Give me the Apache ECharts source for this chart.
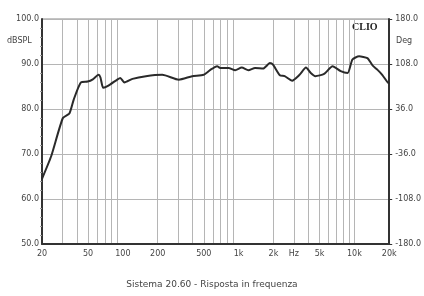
<!DOCTYPE html>
<html>
<head>
<meta charset="utf-8">
<title>Sistema 20.60 - Risposta in frequenza</title>
<script src="https://cdn.jsdelivr.net/npm/echarts@6/dist/echarts.min.js"></script>
<style>
    html, body { margin: 0; padding: 0; background: #fff; }
    #chart { width: 424px; height: 296px; }
</style>
</head>
<body>
<div id="chart"></div>
<script>
// frequency response
var freqs = [20, 24, 30.3, 34.5, 37.6, 43.4, 49.6, 55, 61.6, 64, 67.6, 75, 90, 95, 103, 121, 158, 219, 304, 397, 498, 570, 652, 694, 818, 934, 1064, 1214, 1386, 1632, 1862, 1988, 2270, 2500, 2900, 3360, 3820, 4200, 4600, 5480, 6480, 7620, 8740, 9620, 10980, 12960, 14340, 15860, 17400, 19280, 20000];
var spl = [64.5, 69.5, 78, 79, 82.1, 85.9, 86.1, 86.6, 87.6, 87.0, 84.7, 85.2, 86.6, 86.9, 85.9, 86.7, 87.3, 87.6, 86.5, 87.3, 87.6, 88.7, 89.5, 89.1, 89.1, 88.6, 89.2, 88.6, 89.1, 89.0, 90.2, 89.8, 87.5, 87.3, 86.3, 87.6, 89.2, 88.0, 87.3, 87.8, 89.5, 88.4, 88.0, 91.0, 91.7, 91.3, 89.7, 88.7, 87.6, 86.0, 85.6];

// tick labels
var labelFreqs = [20, 50, 100, 200, 500, 1000, 2000, 3000, 5000, 10000, 20000];
var splTicks = [50, 60, 70, 80, 90, 100];
var degTicks = [-180, -108, -36, 36, 108, 180];

var font = 'DejaVu Sans';

// vertical grid at 20, 30 ... 90, 100, 200 ... 20k
var gridFreqs = [];
[10, 100, 1000].forEach(function (d) {
    for (var k = 2; k <= 9; k++) gridFreqs.push(k * d);
});
gridFreqs.push(10000, 20000);

var points = freqs.map(function (f, i) { return [f, spl[i]]; });

var chart = echarts.init(document.getElementById('chart'));

var option = {
    animation: false,
    backgroundColor: '#fff',
    title: {
        text: 'Sistema 20.60 - Risposta in frequenza',
        left: 'center',
        bottom: 2,
        textStyle: { fontFamily: font, fontSize: 9, fontWeight: 'normal', color: '#444' }
    },
    grid: {
        left: 42, right: 32, top: 19, bottom: 52,
        show: true, borderColor: '#888', borderWidth: 1
    },
    graphic: [
        { type: 'text', left: 7, top: 37, style: { text: 'dBSPL', font: '8px DejaVu Sans', fill: '#444' } },
        { type: 'text', left: 396, top: 37, style: { text: 'Deg', font: '8px DejaVu Sans', fill: '#444' } },
        { type: 'text', left: 352, top: 22, style: { text: 'CLIO', font: 'bold 10px Liberation Serif', fill: '#222' } }
    ],
    xAxis: {
        type: 'log',
        logBase: 10,
        min: 20,
        max: 20000,
        axisLine: { show: true, lineStyle: { color: '#333', width: 2 } },
        axisTick: { show: false, customValues: gridFreqs },
        splitLine: { show: true, lineStyle: { color: '#b5b5b5', width: 1 } },
        axisLabel: {
            customValues: labelFreqs,
            margin: 6,
            fontFamily: font,
            fontSize: 8,
            color: '#444',
            formatter: function (v) {
                v = Math.round(v);
                if (v === 3000) return 'Hz';
                return v >= 1000 ? (v / 1000) + 'k' : String(v);
            }
        }
    },
    yAxis: [{
        type: 'value',
        min: 50,
        max: 100,
        interval: 10,
        axisLine: { show: true, lineStyle: { color: '#333', width: 2 } },
        axisTick: { show: false },
        minorTick: { show: true, splitNumber: 5, length: 2, lineStyle: { color: '#999' } },
        splitLine: { show: true, lineStyle: { color: '#b5b5b5', width: 1 } },
        axisLabel: {
            margin: 3,
            fontFamily: font,
            fontSize: 8,
            color: '#444',
            formatter: function (v) { return splTicks.indexOf(v) >= 0 ? v.toFixed(1) : ''; }
        }
    }, {
        // phase scale shares the spl grid: 50..100 maps to -180..180
        type: 'value',
        position: 'right',
        min: 50,
        max: 100,
        interval: 10,
        axisLine: { show: true, lineStyle: { color: '#333', width: 2 } },
        axisTick: { show: true, length: 3, lineStyle: { color: '#333' } },
        splitLine: { show: false },
        axisLabel: {
            margin: 6,
            fontFamily: font,
            fontSize: 8,
            color: '#444',
            formatter: function (v) { return degTicks[(v - 50) / 10].toFixed(1); }
        }
    }],
    series: [{
        type: 'line',
        data: points,
        showSymbol: false,
        smooth: 0.2,
        lineStyle: { color: '#2a2a2a', width: 2 }
    }]
};

chart.setOption(option);
</script>
</body>
</html>
